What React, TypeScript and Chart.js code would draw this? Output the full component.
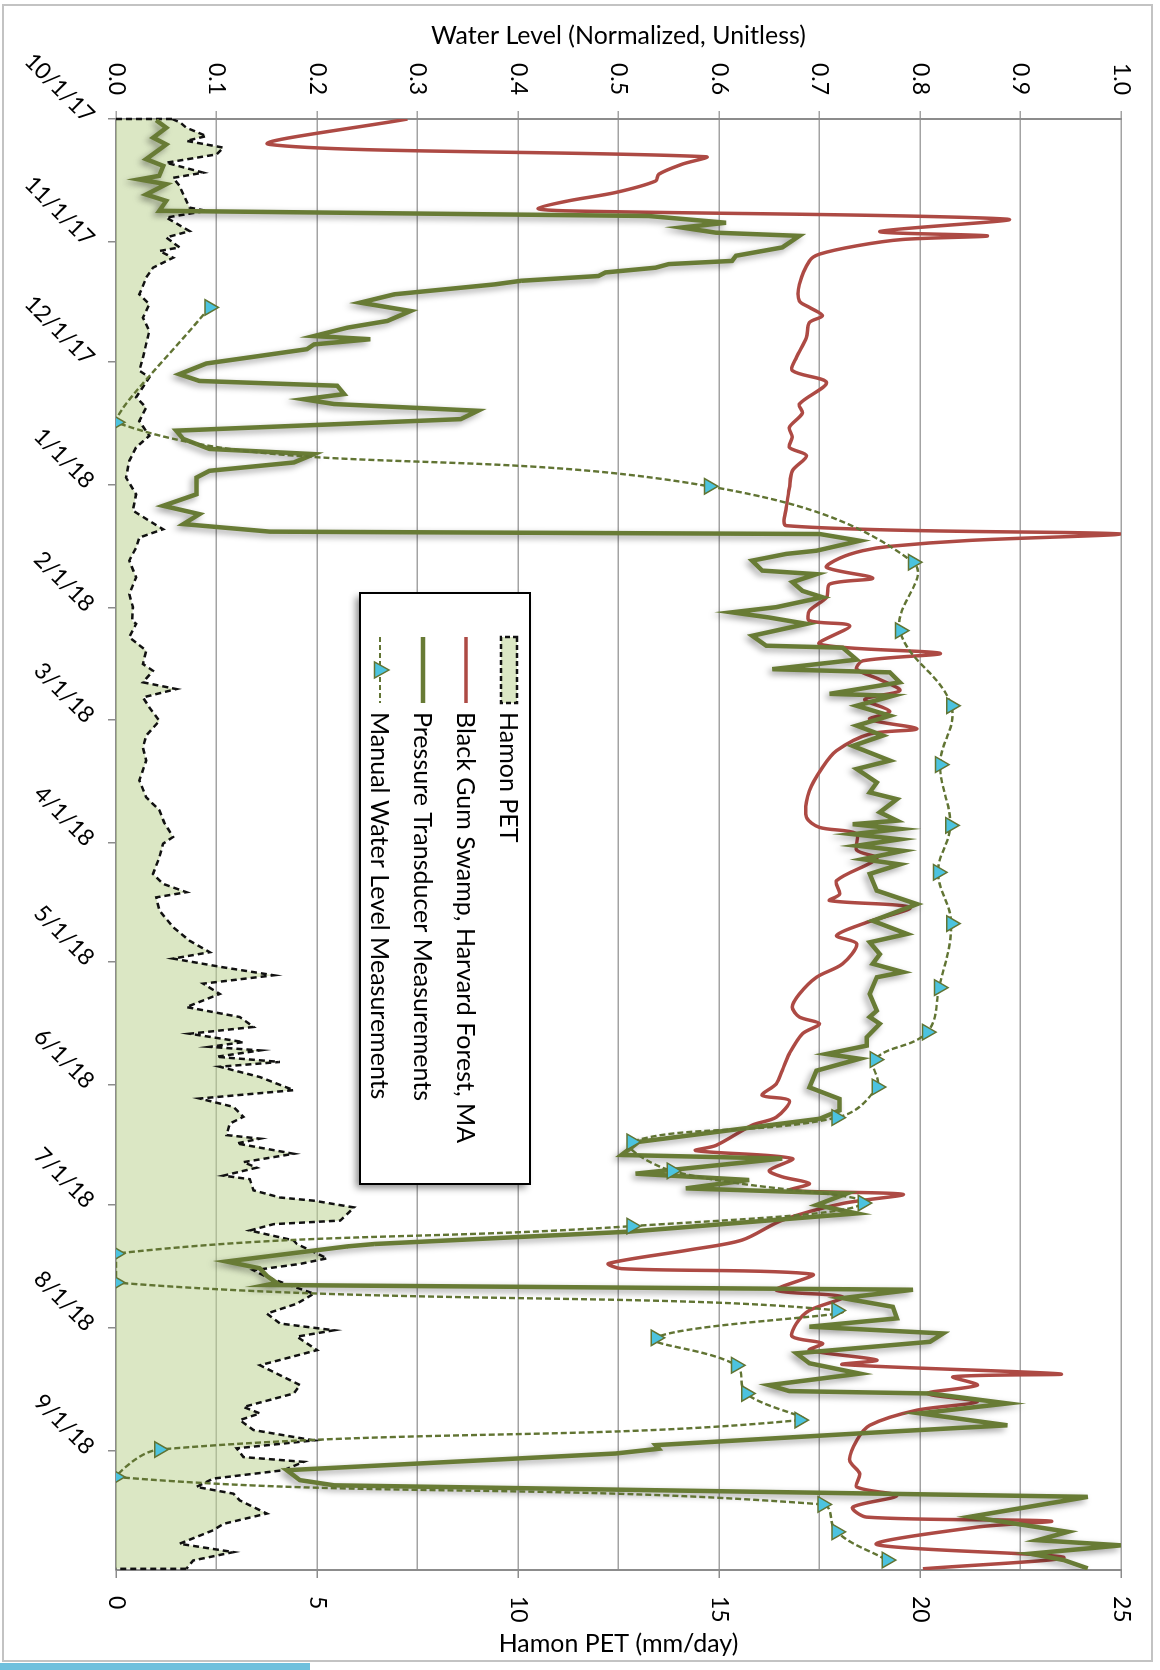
import React, { useEffect, useRef } from 'react';
import { Chart, registerables } from 'chart.js';

Chart.register(...registerables);

// Days are counted from 10/1/2017.
const monthTickDays = [0, 31, 61, 92, 123, 151, 182, 212, 243, 273, 304, 335];
const monthTickLabels = ['10/1/17', '11/1/17', '12/1/17', '1/1/18', '2/1/18', '3/1/18', '4/1/18', '5/1/18', '6/1/18', '7/1/18', '8/1/18', '9/1/18'];

// Hamon PET (mm/day)
const petDays = [0, 0.9, 2.2, 4.3, 5.5, 7.2, 8.9, 11, 13.5, 14.8, 16.8, 19.5, 22.3, 23.1, 24.8, 28.2, 29.8, 32.3, 33.2, 34.9, 37.4, 39.9, 42, 44.1, 46.6, 50, 53.3, 56.6, 60, 63.3, 65, 70, 72.6, 76, 79.7, 82.6, 86, 90.2, 94.4, 98.5, 101.1, 103.2, 105.3, 107.8, 111.1, 115.3, 119.5, 122.8, 126.2, 127, 130.4, 133.7, 137.1, 138.8, 141.7, 143.4, 145.5, 148, 151.4, 155.1, 158.1, 161.4, 166.4, 170.6, 173.9, 177, 180.6, 182.3, 185.7, 189.9, 192.4, 194.5, 195.8, 199.1, 203.3, 206.7, 209.6, 211.2, 213.4, 215.4, 217.5, 220.1, 223.4, 225.9, 228.4, 230.1, 232.2, 233.4, 234.3, 235.9, 237.2, 238.4, 241, 244.3, 246.4, 248.5, 251, 252.7, 255.6, 256.5, 257.7, 260.3, 262.4, 263.8, 265.8, 266.7, 269.5, 271.3, 272.1, 273.8, 277.1, 278, 279.6, 282.1, 283, 286.6, 288, 289.6, 291.3, 295.5, 298, 300.5, 303, 304.7, 306.3, 309.7, 313.5, 318.5, 320.6, 324, 325.6, 327.3, 329.8, 332.4, 334.4, 336.6, 337.8, 339.9, 342, 344.1, 345.8, 347.5, 350.8, 353.4, 355, 358.4, 360.5, 362.6, 364.7];
const petValues = [1.4, 1.6, 1.75, 2.25, 1.75, 2.67, 2.5, 1.25, 2.17, 1.42, 1.58, 1.7, 1.83, 2.25, 1.25, 1.83, 1.25, 1.58, 1.08, 1.42, 0.92, 0.75, 0.67, 0.58, 0.83, 0.67, 0.83, 0.75, 0.67, 0.58, 0.83, 0.5, 0.75, 0.58, 0.83, 0.5, 0.33, 0.25, 0.5, 0.42, 0.83, 1.17, 0.58, 0.5, 0.33, 0.5, 0.33, 0.42, 0.4, 0.5, 0.33, 0.75, 0.67, 0.92, 0.67, 1.5, 0.67, 0.83, 1.08, 0.75, 0.67, 0.75, 0.58, 0.75, 1.08, 1.2, 1.42, 1.17, 1.08, 0.92, 1.17, 1.75, 1.0, 1.08, 1.42, 1.83, 2.33, 1.42, 2.67, 3.92, 2.17, 2.58, 1.75, 3.08, 3.42, 1.83, 3.17, 2.33, 3.58, 2.5, 4.08, 2.58, 3.58, 4.42, 2.08, 2.92, 3.17, 2.83, 2.75, 3.58, 3.0, 4.42, 3.17, 3.5, 2.67, 3.33, 3.42, 4.08, 4.92, 5.92, 5.58, 3.92, 3.33, 4.42, 4.5, 5.25, 4.58, 3.42, 3.75, 4.92, 4.5, 3.75, 4.08, 5.42, 4.5, 5.0, 3.58, 4.58, 4.42, 3.17, 3.58, 3.08, 3.42, 4.92, 3.0, 3.17, 4.67, 4.17, 2.42, 2.0, 2.92, 3.08, 3.75, 2.67, 2.42, 1.58, 2.92, 1.92, 1.75];

// Black Gum Swamp, Harvard Forest, MA (normalized water level)
const swampDays = [0, 6.4, 9.5, 11.4, 13.9, 15.6, 18.5, 20.6, 22.5, 23.1, 25.2, 28.3, 29.4, 30.3, 31.9, 34, 35.7, 41.6, 45.8, 47.4, 49.5, 51.2, 55, 60, 63.3, 66.3, 71.7, 74, 77.6, 80, 82.6, 84.7, 88.5, 93, 97.7, 102.3, 104.4, 106, 107.5, 108.6, 110.5, 112.8, 115.5, 117, 120.3, 123.7, 126.2, 127.5, 132.1, 134.4, 136.3, 138.4, 141, 143.8, 146, 149, 151, 153.4, 154.7, 158.9, 163.1, 169, 175.6, 178.2, 179.8, 183.9, 186, 191.6, 195, 196.6, 198.3, 202.1, 205.4, 207.5, 212.5, 215.9, 220.1, 223.4, 225.9, 227.6, 230.1, 235.1, 239.3, 242.7, 245.6, 246.9, 251.1, 253.1, 258.2, 259.5, 261.5, 264.5, 266.1, 267.8, 269.5, 270.5, 272.8, 277, 282, 284.5, 287.9, 289.2, 290.6, 294.6, 296.3, 299.7, 303, 306.3, 308, 309.7, 312.2, 313.3, 315.7, 316.4, 318.5, 320.6, 322.7, 324.8, 328.6, 332.4, 337.4, 340.8, 344.1, 346.3, 349.2, 351.7, 352.7, 354.2, 358.6, 361.8, 364.7];
const swampLevels = [0.29, 0.153, 0.587, 0.563, 0.54, 0.537, 0.497, 0.45, 0.42, 0.447, 0.887, 0.76, 0.867, 0.783, 0.737, 0.7, 0.69, 0.68, 0.68, 0.69, 0.703, 0.69, 0.687, 0.677, 0.673, 0.707, 0.68, 0.683, 0.67, 0.673, 0.67, 0.687, 0.673, 0.67, 0.667, 0.667, 1.0, 0.85, 0.77, 0.743, 0.72, 0.707, 0.753, 0.71, 0.707, 0.69, 0.69, 0.73, 0.7, 0.82, 0.743, 0.737, 0.76, 0.78, 0.745, 0.77, 0.75, 0.797, 0.75, 0.717, 0.703, 0.69, 0.687, 0.7, 0.737, 0.737, 0.757, 0.717, 0.72, 0.71, 0.79, 0.747, 0.717, 0.737, 0.723, 0.697, 0.68, 0.673, 0.68, 0.7, 0.683, 0.67, 0.663, 0.657, 0.643, 0.67, 0.657, 0.633, 0.597, 0.577, 0.673, 0.65, 0.663, 0.69, 0.67, 0.783, 0.723, 0.663, 0.623, 0.57, 0.49, 0.503, 0.693, 0.657, 0.723, 0.69, 0.677, 0.673, 0.703, 0.69, 0.757, 0.723, 0.94, 0.833, 0.857, 0.807, 0.857, 0.797, 0.75, 0.737, 0.73, 0.74, 0.737, 0.777, 0.733, 0.747, 0.93, 0.857, 0.757, 0.943, 0.803];

// Pressure transducer record (normalized water level)
const transducerDays = [0.3, 2.2, 4.7, 6.4, 10.1, 11.8, 14.3, 15.2, 16.4, 19, 20.6, 23.1, 24.4, 26.1, 27.3, 28.6, 29.4, 32.3, 34.4, 35.7, 36.5, 37.4, 38.6, 39.5, 40.7, 41.6, 44.1, 46.2, 48.3, 50.8, 52.5, 54.6, 55.4, 56.7, 57.9, 59.6, 61.5, 64.2, 65.9, 67.1, 69.2, 70.5, 71.7, 73.4, 75.5, 78.4, 80.5, 83, 84.3, 86.4, 88.5, 90.2, 94.4, 97.3, 99.4, 101.9, 103.8, 104.4, 106.1, 108.6, 109.4, 111.1, 113.6, 114.5, 116.5, 118.7, 120.3, 122.8, 124.1, 125.4, 127, 130, 132.5, 133, 136, 138.4, 139.2, 141.7, 144.6, 145.1, 147.6, 150.1, 152.6, 155.1, 157.7, 161.4, 163.5, 166.9, 169.4, 171.1, 174.4, 176.5, 177.4, 178.6, 179.9, 181.2, 182.8, 184.1, 186.2, 187.5, 189.9, 194.1, 197.5, 201.7, 205, 207.1, 210.1, 212.5, 214.6, 215.9, 220.1, 224.3, 225.9, 227.6, 231, 233.1, 235.2, 236.4, 239.4, 243.6, 246.5, 249.4, 251.5, 257.3, 260.6, 261.5, 265.3, 266.9, 269, 270.3, 273.2, 275.3, 279.9, 283, 283.6, 287.4, 289.1, 291, 292.8, 293.3, 294.5, 296.6, 298.8, 301.7, 303.8, 305.5, 307.6, 310.5, 313, 315.6, 318.5, 320, 320.6, 323.1, 325.6, 328.6, 330.2, 333.6, 334.5, 335.7, 339.9, 342.4, 343.7, 346.6, 351.6, 355.4, 357.5, 358.8, 360.9, 362.5, 364.6];
const transducerLevels = [0.04, 0.05, 0.037, 0.05, 0.03, 0.047, 0.043, 0.023, 0.05, 0.03, 0.05, 0.043, 0.53, 0.607, 0.563, 0.597, 0.68, 0.663, 0.617, 0.613, 0.55, 0.537, 0.487, 0.48, 0.403, 0.377, 0.277, 0.243, 0.293, 0.27, 0.23, 0.197, 0.253, 0.197, 0.19, 0.143, 0.09, 0.063, 0.083, 0.22, 0.227, 0.187, 0.217, 0.36, 0.343, 0.06, 0.067, 0.093, 0.197, 0.177, 0.093, 0.08, 0.08, 0.047, 0.083, 0.067, 0.153, 0.7, 0.74, 0.697, 0.667, 0.633, 0.643, 0.697, 0.673, 0.683, 0.703, 0.657, 0.613, 0.65, 0.687, 0.633, 0.647, 0.723, 0.737, 0.653, 0.77, 0.78, 0.71, 0.773, 0.737, 0.77, 0.737, 0.763, 0.733, 0.77, 0.737, 0.757, 0.75, 0.777, 0.76, 0.777, 0.733, 0.78, 0.733, 0.78, 0.737, 0.783, 0.743, 0.78, 0.75, 0.757, 0.797, 0.753, 0.787, 0.75, 0.76, 0.753, 0.783, 0.757, 0.75, 0.757, 0.75, 0.76, 0.747, 0.747, 0.707, 0.74, 0.697, 0.69, 0.72, 0.72, 0.7, 0.52, 0.503, 0.663, 0.517, 0.63, 0.567, 0.727, 0.697, 0.737, 0.51, 0.257, 0.23, 0.11, 0.143, 0.15, 0.16, 0.15, 0.793, 0.723, 0.773, 0.777, 0.69, 0.823, 0.81, 0.677, 0.69, 0.74, 0.65, 0.67, 0.81, 0.887, 0.8, 0.887, 0.77, 0.537, 0.54, 0.497, 0.17, 0.183, 0.217, 0.967, 0.85, 0.947, 0.917, 1.0, 0.91, 0.943, 0.967];

// Manual water level readings (normalized)
const manualDays = [47.4, 76.3, 92.4, 111.5, 128.7, 147.6, 162.4, 177.7, 189.5, 202.4, 218.5, 229.7, 236.6, 243.5, 251.2, 257.3, 264.6, 272.7, 278.5, 285.4, 292.7, 299.7, 306.6, 313.5, 320.6, 327.3, 334.7, 341.6, 348.5, 355.4, 362.5];
const manualLevels = [0.093, 0, 0.59, 0.793, 0.78, 0.831, 0.82, 0.83, 0.818, 0.831, 0.819, 0.807, 0.755, 0.757, 0.717, 0.513, 0.553, 0.743, 0.513, 0, 0, 0.717, 0.537, 0.617, 0.627, 0.68, 0.043, 0, 0.703, 0.717, 0.767];

const seriesNames = ['Hamon PET', 'Black Gum Swamp, Harvard Forest, MA', 'Pressure Transducer Measurements', 'Manual Water Level Measurements'];
const levelAxisTitle = 'Water Level (Normalized, Unitless)';
const petAxisTitle = 'Hamon PET (mm/day)';

const FONT = 'Lato, "Open Sans", sans-serif';
const PET_FILL = 'rgba(190,211,147,0.55)';
const SWAMP_RED = '#ad4a44';
const TRANSDUCER_GREEN = '#687b35';
const MANUAL_GREEN = '#617433';
const MARKER_CYAN = '#4cc3df';

// The canvas is laid out landscape and turned a quarter turn clockwise on the page.
const CANVAS_W = 1670;
const CANVAS_H = 1160;

const toPoints = (xs: number[], ys: number[]) => xs.map((x, i) => ({ x, y: ys[i] }));

const axisTitles = {
  id: 'axisTitles',
  afterDraw(chart: any) {
    const { ctx, chartArea } = chart;
    const midV = (chartArea.top + chartArea.bottom) / 2;
    const draw = (text: string, u: number) => {
      ctx.save();
      ctx.fillStyle = '#000';
      ctx.font = `25px ${FONT}`;
      ctx.textAlign = 'center';
      ctx.textBaseline = 'middle';
      ctx.translate(u, midV);
      ctx.rotate(-Math.PI / 2);
      ctx.fillText(text, 0, 0);
      ctx.restore();
    };
    draw(levelAxisTitle, 36);
    draw(petAxisTitle, chartArea.right + 74);
  },
};

// Closes the dashed outline of the PET area down to the zero line at both ends.
const areaOutline = {
  id: 'areaOutline',
  afterDatasetDraw(chart: any, args: any) {
    if (args.index !== 0) return;
    const pts = args.meta.data;
    if (!pts.length) return;
    const { ctx } = chart;
    const zero = chart.scales.pet.getPixelForValue(0);
    const first = pts[0];
    const last = pts[pts.length - 1];
    ctx.save();
    ctx.strokeStyle = '#111';
    ctx.lineWidth = 2.5;
    ctx.setLineDash([6, 4]);
    ctx.beginPath();
    ctx.moveTo(first.x, zero);
    ctx.lineTo(first.x, first.y);
    ctx.moveTo(last.x, last.y);
    ctx.lineTo(last.x, zero);
    ctx.stroke();
    ctx.restore();
  },
};

const lineShadow = {
  id: 'lineShadow',
  beforeDatasetDraw(chart: any, args: any) {
    if (args.index !== 2) return;
    const { ctx } = chart;
    ctx.save();
    ctx.shadowColor = 'rgba(0,0,0,0.38)';
    ctx.shadowBlur = 6;
    ctx.shadowOffsetX = 3;
    ctx.shadowOffsetY = 3;
  },
  afterDatasetDraw(chart: any, args: any) {
    if (args.index !== 2) return;
    chart.ctx.restore();
  },
};

const boxedLegend = {
  id: 'boxedLegend',
  afterDraw(chart: any) {
    const { ctx } = chart;
    const left = 593;
    const right = 1184;
    const top = 630;
    const bottom = 800;
    ctx.save();
    ctx.shadowColor = 'rgba(0,0,0,0.45)';
    ctx.shadowBlur = 7;
    ctx.shadowOffsetX = 4;
    ctx.shadowOffsetY = 4;
    ctx.fillStyle = '#fff';
    ctx.fillRect(left, top, right - left, bottom - top);
    ctx.restore();
    ctx.save();
    ctx.strokeStyle = '#000';
    ctx.lineWidth = 2;
    ctx.strokeRect(left, top, right - left, bottom - top);

    const rows = [651, 694, 737, 780];
    const iconL = 637;
    const iconR = 703;
    // PET swatch
    ctx.fillStyle = PET_FILL;
    ctx.fillRect(iconL, rows[0] - 8, iconR - iconL, 16);
    ctx.setLineDash([5, 3]);
    ctx.strokeStyle = '#111';
    ctx.lineWidth = 2.5;
    ctx.strokeRect(iconL, rows[0] - 8, iconR - iconL, 16);
    ctx.setLineDash([]);
    // swamp line
    ctx.strokeStyle = SWAMP_RED;
    ctx.lineWidth = 3.5;
    ctx.beginPath();
    ctx.moveTo(iconL, rows[1]);
    ctx.lineTo(iconR, rows[1]);
    ctx.stroke();
    // transducer line
    ctx.strokeStyle = TRANSDUCER_GREEN;
    ctx.lineWidth = 4.5;
    ctx.beginPath();
    ctx.moveTo(iconL, rows[2]);
    ctx.lineTo(iconR, rows[2]);
    ctx.stroke();
    // manual readings: dashed line with marker
    ctx.strokeStyle = MANUAL_GREEN;
    ctx.lineWidth = 2.2;
    ctx.setLineDash([5, 3]);
    ctx.beginPath();
    ctx.moveTo(iconL, rows[3]);
    ctx.lineTo(iconR, rows[3]);
    ctx.stroke();
    ctx.setLineDash([]);
    const cx = (iconL + iconR) / 2;
    ctx.beginPath();
    ctx.moveTo(cx, rows[3] - 9);
    ctx.lineTo(cx + 8, rows[3] + 5.5);
    ctx.lineTo(cx - 8, rows[3] + 5.5);
    ctx.closePath();
    ctx.fillStyle = MARKER_CYAN;
    ctx.fill();
    ctx.strokeStyle = MANUAL_GREEN;
    ctx.lineWidth = 1.5;
    ctx.stroke();

    ctx.fillStyle = '#000';
    ctx.font = `25px ${FONT}`;
    ctx.textAlign = 'left';
    ctx.textBaseline = 'middle';
    seriesNames.forEach((name, i) => ctx.fillText(name, 712, rows[i] + 1));
    ctx.restore();
  },
};

export default function App() {
  const canvasRef = useRef<HTMLCanvasElement>(null);

  useEffect(() => {
    const canvas = canvasRef.current;
    if (!canvas) return;
    const tickFont = { family: FONT, size: 23 };
    const chart = new Chart(canvas, {
      type: 'line',
      data: {
        datasets: [
          {
            label: seriesNames[0],
            data: toPoints(petDays, petValues),
            yAxisID: 'pet',
            borderColor: '#111',
            borderWidth: 2.5,
            borderDash: [6, 4],
            backgroundColor: PET_FILL,
            fill: 'origin',
            pointRadius: 0,
            tension: 0,
            order: 4,
          },
          {
            label: seriesNames[1],
            data: toPoints(swampDays, swampLevels),
            yAxisID: 'wl',
            borderColor: SWAMP_RED,
            borderWidth: 3.5,
            pointRadius: 0,
            tension: 0.3,
            fill: false,
            order: 3,
          },
          {
            label: seriesNames[2],
            data: toPoints(transducerDays, transducerLevels),
            yAxisID: 'wl',
            borderColor: TRANSDUCER_GREEN,
            borderWidth: 4.5,
            pointRadius: 0,
            tension: 0,
            fill: false,
            order: 2,
          },
          {
            label: seriesNames[3],
            data: toPoints(manualDays, manualLevels),
            yAxisID: 'wl',
            borderColor: MANUAL_GREEN,
            borderWidth: 2.4,
            borderDash: [6, 3],
            pointStyle: 'triangle',
            pointRadius: 9,
            pointBackgroundColor: MARKER_CYAN,
            pointBorderColor: MANUAL_GREEN,
            pointBorderWidth: 1.5,
            tension: 0.4,
            fill: false,
            order: 1,
          },
        ],
      },
      options: {
        animation: false,
        responsive: false,
        devicePixelRatio: 1,
        layout: { padding: { top: 39, left: 0, right: 0, bottom: 0 } },
        plugins: { legend: { display: false }, tooltip: { enabled: false } },
        scales: {
          x: {
            type: 'linear',
            position: 'bottom',
            min: 0,
            max: 365,
            afterBuildTicks: (scale: any) => {
              scale.ticks = monthTickDays.map((value) => ({ value }));
            },
            afterFit: (scale: any) => {
              scale.height = 116;
            },
            ticks: {
              autoSkip: false,
              minRotation: 45,
              maxRotation: 45,
              padding: 8,
              color: '#000',
              font: tickFont,
              callback: (_v: any, i: number) => monthTickLabels[i],
            },
            grid: { drawOnChartArea: false, drawTicks: true, tickLength: 8, color: '#8c8c8c', lineWidth: 1.5 },
            border: { display: true, color: '#8c8c8c', width: 2 },
          },
          wl: {
            type: 'linear',
            position: 'left',
            min: 0,
            max: 1,
            afterFit: (scale: any) => {
              scale.width = 119;
            },
            ticks: {
              stepSize: 0.1,
              padding: 16,
              color: '#000',
              font: tickFont,
              callback: (v: any) => Number(v).toFixed(1),
            },
            grid: { color: '#a3a3a3', lineWidth: 1.5, tickLength: 8 },
            border: { display: true, color: '#8c8c8c', width: 2 },
          },
          pet: {
            type: 'linear',
            position: 'right',
            min: 0,
            max: 25,
            afterFit: (scale: any) => {
              scale.width = 100;
            },
            ticks: { stepSize: 5, padding: 18, color: '#000', font: tickFont },
            grid: { drawOnChartArea: false, tickLength: 8, color: '#8c8c8c', lineWidth: 1.5 },
            border: { display: true, color: '#8c8c8c', width: 2 },
          },
        },
      },
      plugins: [areaOutline, lineShadow, axisTitles, boxedLegend],
    });
    return () => chart.destroy();
  }, []);

  return (
    <div style={{ position: 'absolute', left: 0, top: 0, width: 1160, height: 1670, overflow: 'hidden', background: '#fff' }}>
      <div
        style={{
          position: 'absolute',
          left: 0,
          top: 0,
          width: CANVAS_W,
          height: CANVAS_H,
          transformOrigin: '0 0',
          transform: `translateX(${CANVAS_H}px) rotate(90deg)`,
        }}
      >
        <canvas ref={canvasRef} width={CANVAS_W} height={CANVAS_H} style={{ display: 'block', width: CANVAS_W, height: CANVAS_H }} />
      </div>
      <div
        style={{
          position: 'absolute',
          left: 2,
          top: 4,
          width: 1151,
          height: 1658,
          boxSizing: 'border-box',
          border: '2px solid #c3c3c3',
          pointerEvents: 'none',
        }}
      />
      <div style={{ position: 'absolute', left: 0, top: 1663, width: 310, height: 7, background: '#6fc0dd' }} />
    </div>
  );
}
